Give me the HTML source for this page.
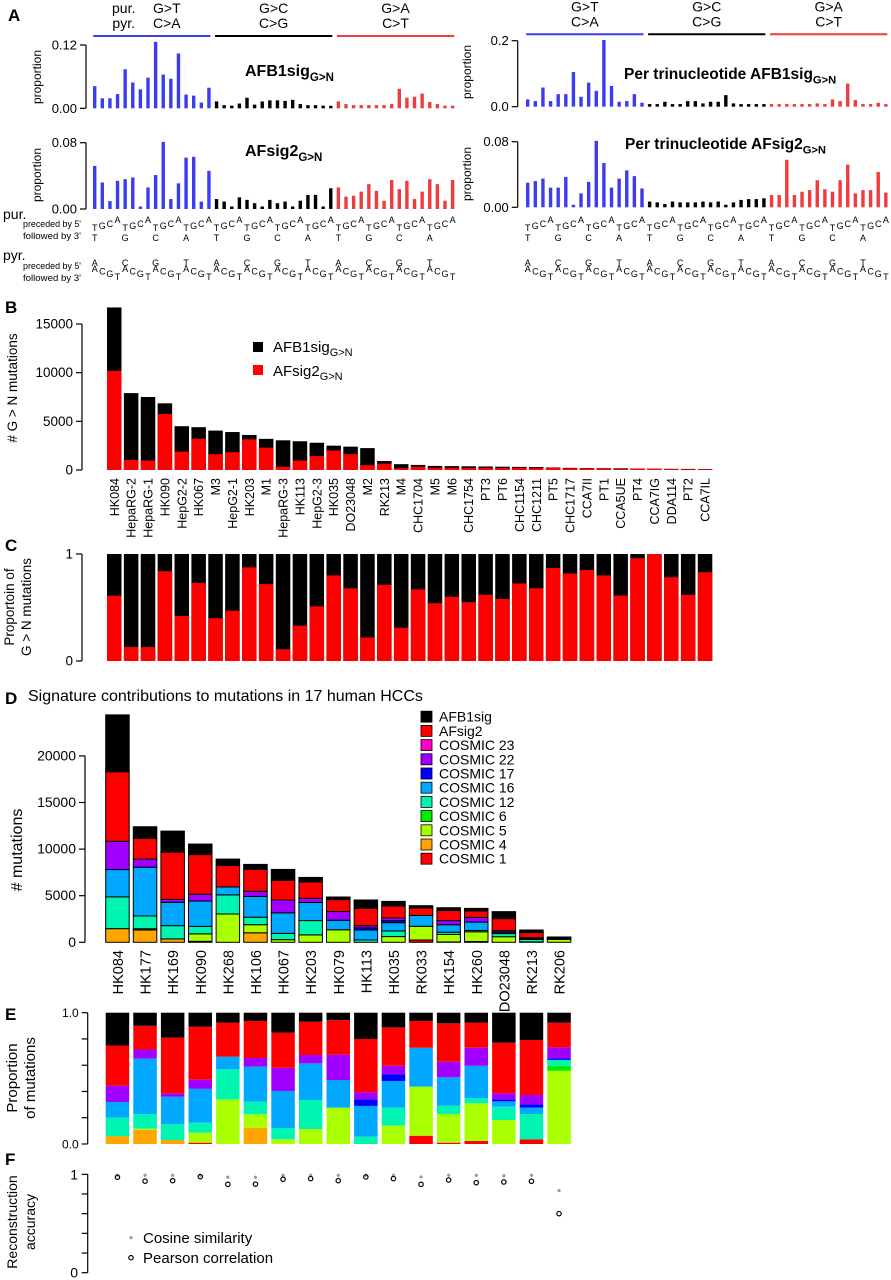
<!DOCTYPE html>
<html><head><meta charset="utf-8"><style>
html,body{margin:0;padding:0;background:#fff;}
svg{display:block;font-family:"Liberation Sans",Arial,sans-serif;}
</style></head><body>
<svg id="fig" width="891" height="1280" viewBox="0 0 891 1280" xmlns="http://www.w3.org/2000/svg"></svg>
<script>
// ---------- Panel A data ----------
const aAfb1 = [.042,.019,.019,.027,.074,.049,.036,.058,.126,.064,.056,.104,.026,.024,.011,.039,
 .013,.006,.005,.009,.02,.007,.013,.015,.015,.014,.016,.008,.006,.006,.005,.004,
 .013,.008,.006,.006,.006,.006,.006,.008,.037,.02,.022,.028,.012,.008,.005,.005];
const aAfsig2 = [.052,.032,.0096,.034,.036,.038,.002,.026,.041,.081,.012,.031,.062,.063,.009,.046,
 .012,.009,.003,.014,.011,.007,.003,.011,.007,.009,.003,.01,.017,.017,.003,.025,
 .026,.015,.016,.021,.03,.022,.01,.035,.024,.034,.012,.021,.036,.03,.01,.035];
const aTriAfb1 = [.022,.017,.058,.017,.038,.038,.105,.03,.073,.048,.202,.063,.015,.017,.038,.012,
 .008,.008,.015,.008,.008,.017,.017,.01,.015,.015,.035,.01,.008,.008,.008,.008,
 .008,.008,.008,.008,.008,.008,.01,.008,.022,.017,.07,.02,.008,.008,.012,.008];
const aTriAfsig2 = [.03,.032,.035,.024,.024,.037,.002,.017,.031,.081,.054,.024,.035,.045,.038,.023,
 .007,.006,.004,.007,.006,.006,.006,.007,.006,.007,.002,.006,.009,.010,.010,.011,
 .015,.015,.058,.015,.019,.021,.033,.022,.019,.033,.052,.017,.021,.021,.043,.018];
// ---------- Panel B/C data ----------
const bSamples = ["HK084","HepaRG-2","HepaRG-1","HK090","HepG2-2","HK067","M3","HepG2-1","HK203","M1","HepaRG-3","HK113","HepG2-3","HK035","DO23048","M2","RK213","M4","CHC1704","M5","M6","CHC1754","PT3","PT6","CHC1154","CHC1211","PT5","CHC1717","CCA7II","PT1","CCA5UE","PT4","CCA7IG","DDA114","PT2","CCA7IL"];
const bTotal = [16700,7900,7500,6850,4500,4400,4050,3900,3600,3200,3050,2950,2800,2500,2400,2250,920,600,520,420,400,380,360,340,320,300,260,220,200,190,170,150,130,120,110,100];
const bAfsig2 = [10190,1030,975,5750,1890,3210,1620,1830,3150,2300,335,975,1430,2000,1630,495,655,186,348,227,240,209,223,197,232,204,226,180,170,152,104,144,130,94,68,83];
const bTicks = [0,5000,10000,15000];
// ---------- Panel D/E/F data ----------
const dSamples = ["HK084","HK177","HK169","HK090","HK268","HK106","HK067","HK203","HK079","HK113","HK035","RK033","HK154","HK260","DO23048","RK213","RK206"];
const dTotal = [24400,12400,11930,10540,8930,8360,7820,6960,4860,4540,4390,3930,3710,3640,3290,1320,570];
const pCosmic1 = [0,0,0,.01,0,0,0,0,0,0,0,.063,.01,.023,0,.036,0];
const pCosmic4 = [.06,.107,.03,0,0,.122,0,0,0,0,0,0,0,0,0,0,0];
const pCosmic5 = [0,.01,0,.076,.34,.104,.036,.114,.277,0,.14,.374,.218,.287,.183,0,.558];
const pCosmic6 = [0,0,0,0,0,0,0,0,0,0,0,0,0,0,0,0,.038];
const pCosmic12 = [.14,.111,.12,.076,.23,.096,.086,.221,0,.056,.137,0,.064,.038,.101,.192,.044];
const pCosmic16 = [.12,.422,.21,.258,.095,.267,.282,.279,.21,.234,.203,.296,.216,.248,.041,.049,0];
const pCosmic17 = [0,0,0,0,0,0,0,0,0,.05,.05,0,0,0,.015,.025,.012];
const pCosmic22 = [.124,.07,.026,.07,0,.066,.176,.064,.193,.053,.066,0,.119,.137,.046,.071,.084];
const pCosmic23 = [0,0,0,0,0,0,0,0,0,0,0,0,0,0,0,0,0];
const pAfsig2 = [.306,.18,.424,.403,.259,.282,.268,.253,.264,.407,.292,.204,.292,.191,.386,.419,.188];
const pAfb1 = [.25,.1,.19,.107,.076,.063,.152,.069,.056,.2,.112,.063,.081,.076,.228,.208,.076];
const dTicks = [0,5000,10000,15000,20000];
const fCosine = [.99,.99,.99,.99,.97,.97,.99,.99,.99,.99,.99,.973,.99,.99,.985,.99,.834];
const fPearson = [.97,.93,.935,.976,.898,.9,.95,.956,.935,.973,.956,.898,.942,.915,.922,.929,.6];

const NS="http://www.w3.org/2000/svg";
const svg=document.getElementById('fig');
function mk(tag,attrs,txt){const e=document.createElementNS(NS,tag);for(const k in attrs)e.setAttribute(k,attrs[k]);if(txt!==undefined)e.textContent=txt;svg.appendChild(e);return e;}
function label(x,y,t,size,opts){const o=Object.assign({x:x,y:y,'font-size':size,fill:'#000'},opts||{});return mk('text',o,t);}
let e;

// ---------- panel letters ----------
[["A",8,21],["B",5,313],["C",5,551],["D",5,704],["E",5,1020],["F",5,1165]].forEach(p=>{
 e=label(p[1],p[2],p[0],17,{'font-weight':'bold'});
 
 
});

// ---------- Panel A ----------
const groupCol=["#3c3cf0","#000000","#f03c3c"];
function drawSpectrum(data,x0,pitch,y0,ymax,h,name){
 data.forEach((v,i)=>{
  const x=x0+i*pitch; const bh=Math.max(v/ymax*h,2.5);
  e=mk('rect',{x:x-1.7,y:y0-bh,width:3.4,height:bh,fill:groupCol[Math.floor(i/16)]});
  
  
 });
}
function yAxis(x,yTop,yBot,tickLabels,name,fs){
 e=mk('line',{x1:x,y1:yTop,x2:x,y2:yBot,stroke:'#000','stroke-width':1.2});
 
 
 tickLabels.forEach(t=>{
  e=mk('line',{x1:x-6,y1:t[0],x2:x,y2:t[0],stroke:'#000','stroke-width':1.2});
  
  
  e=label(x-9,t[0]+4.5,t[1],fs||13,{'text-anchor':'end'});
  
  
 });
}
function vText(x,y,t,size,name){
 e=label(x,y,t,size,{'text-anchor':'middle',transform:'rotate(-90 '+x+' '+y+')'});
 
 
 return e;
}
function titleSub(x,y,main,sub,size,name){
 e=mk('text',{x:x,y:y,'font-size':size,'font-weight':'bold',fill:'#000'});
 
 
 const t1=document.createElementNS(NS,'tspan');t1.textContent=main;e.appendChild(t1);
 const t2=document.createElementNS(NS,'tspan');t2.setAttribute('font-size',size*0.72);t2.setAttribute('dy',size*0.3);t2.textContent=sub;e.appendChild(t2);
}
function groupHeader(x0,pitch,yLine,withPur){
 const labs=[["G>T","C>A"],["G>C","C>G"],["G>A","C>T"]];
 for(let g=0;g<3;g++){
  const xs=x0+g*16*pitch-1.5, xe=x0+(g*16+15)*pitch+1.5;
  e=mk('line',{x1:xs,y1:yLine,x2:xe,y2:yLine,stroke:groupCol[g],'stroke-width':2});
  
  
  const cx=(xs+xe)/2+(g===0&&withPur?15:0);
  e=label(cx,yLine-23,labs[g][0],14,{'text-anchor':'middle'});
  
  
  e=label(cx,yLine-8,labs[g][1],14,{'text-anchor':'middle'});
  
  
 }
 if(withPur){
  e=label(x0+29,yLine-23,"pur.",14,{'text-anchor':'middle'});
  
  
  e=label(x0+29,yLine-8,"pyr.",14,{'text-anchor':'middle'});
  
  
 }
}
function contextLetters(x0,pitch){
 const purY={T:231,G:229,C:227,A:223}, pyrY={A:272,C:274.5,G:277,T:280};
 for(let i=0;i<48;i++){
  const x=x0+i*pitch; const l="TGCA"[i%4]; const l2="ACGT"[i%4];
  e=label(x,purY[l],l,9,{'text-anchor':'middle'});
  
  
  e=label(x,pyrY[l2],l2,9,{'text-anchor':'middle'});
  
  
  if(i%4===0){
   const g=Math.floor(i/4)%4;
   e=label(x,241,"TGCA"[g],9,{'text-anchor':'middle'});
   
   
   e=label(x,266,"ACGT"[g],9,{'text-anchor':'middle'});
   
   
  }
 }
}
// left
groupHeader(94.7,7.615,36,true);
yAxis(86,45,108.3,[[45,"0.12"],[108.3,"0.00"]],'a1-y');
drawSpectrum(aAfb1,94.7,7.615,108.3,0.12,63.3,'afb1sig');
vText(41,77,"proportion",12,'a1-y-title');
titleSub(245,76,"AFB1sig","G>N",16,'afb1sig-title');
yAxis(86,142.7,209,[[142.7,"0.08"],[209,"0.00"]],'a2-y');
drawSpectrum(aAfsig2,94.7,7.615,209,0.08,66.3,'afsig2');
vText(41,175,"proportion",12,'a2-y-title');
titleSub(245,156,"AFsig2","G>N",16,'afsig2-title');
contextLetters(94.7,7.615);
// right
groupHeader(527.7,7.62,34.3,false);
yAxis(517.7,40.7,106.7,[[40.7,"0.2"],[106.7,"0.0"]],'a3-y');
drawSpectrum(aTriAfb1,527.7,7.62,106.7,0.2,66,'tri-afb1sig');
vText(471,72,"proportion",12,'a3-y-title');
titleSub(624,79,"Per trinucleotide AFB1sig","G>N",15.5,'tri-afb1sig-title');
yAxis(517.7,141.7,207.3,[[141.7,"0.08"],[207.3,"0.00"]],'a4-y');
drawSpectrum(aTriAfsig2,527.7,7.62,207.3,0.08,65.6,'tri-afsig2');
vText(471,174,"proportion",12,'a4-y-title');
titleSub(625,149,"Per trinucleotide AFsig2","G>N",15.5,'tri-afsig2-title');
contextLetters(527.7,7.62);
// side labels
[["pur.",3,219,14],["pyr.",3,260,14]].forEach(p=>{e=label(p[1],p[2],p[0],p[3]);});
[["preceded by 5'",81,227],["followed by 3'",81,239],["preceded by 5'",81,269],["followed by 3'",81,281]].forEach(p=>{
 e=label(p[1],p[2],p[0],9,{'text-anchor':'end',textLength:58,lengthAdjust:'spacingAndGlyphs'});
 
 
});

// ---------- Panel B ----------
const bx0=107, bPitch=16.88, bW=14.5;
const byB=v=>470-v/15000*146;
yAxis(82,324,470,bTicks.map(t=>[byB(t),String(t)]),'b-y',13.5);
vText(17,388,"# G > N mutations",13.5,'b-y-title');
bTotal.forEach((t,i)=>{
 const x=bx0+i*bPitch;
 e=mk('rect',{x:x,y:byB(t),width:bW,height:470-byB(t),fill:'#000'});
 
 
 e=mk('rect',{x:x,y:byB(bAfsig2[i]),width:bW,height:470-byB(bAfsig2[i]),fill:'#ff0000'});
 
 
 e=label(x+bW/2+4.5,478,bSamples[i],12.5,{'text-anchor':'end',transform:'rotate(-90 '+(x+bW/2+4.5)+' 478)'});
 
 
});
e=mk('rect',{x:253,y:342,width:10,height:10,fill:'#000'});

e=mk('rect',{x:253,y:365,width:10,height:10,fill:'#ff0000'});

[["AFB1sig",352],["AFsig2",376]].forEach(p=>{
 e=mk('text',{x:273,y:p[1],'font-size':15,fill:'#000'});
 
 const a=document.createElementNS(NS,'tspan');a.textContent=p[0];e.appendChild(a);
 const b=document.createElementNS(NS,'tspan');b.setAttribute('font-size',11);b.setAttribute('dy',4);b.textContent="G>N";e.appendChild(b);
});

// ---------- Panel C ----------
const cTop=554, cBot=661;
yAxis(82,cTop,cBot,[[cTop,"1"],[cBot,"0"]],'c-y',13.5);
vText(14,607,"Proportoin of",13.5,'c-y-title');
vText(31,607,"G > N mutations",13.5,'c-y-title-2');
bTotal.forEach((t,i)=>{
 const x=bx0+i*bPitch; const p=bAfsig2[i]/t;
 e=mk('rect',{x:x,y:cTop,width:bW,height:cBot-cTop,fill:'#000'});
 
 e=mk('rect',{x:x,y:cBot-p*(cBot-cTop),width:bW,height:p*(cBot-cTop),fill:'#ff0000'});
 
});

// ---------- Panel D ----------
const sigOrder=[pCosmic1,pCosmic4,pCosmic5,pCosmic6,pCosmic12,pCosmic16,pCosmic17,pCosmic22,pCosmic23,pAfsig2,pAfb1];
const sigNames=["COSMIC 1","COSMIC 4","COSMIC 5","COSMIC 6","COSMIC 12","COSMIC 16","COSMIC 17","COSMIC 22","COSMIC 23","AFsig2","AFB1sig"];
const sigCols=["#ff0000","#ffa500","#aaff00","#00ee00","#00f5b0","#00a8ff","#0000ff","#a000ff","#ff00c8","#ff0000","#000000"];
const dx0=105.7, dPitch=27.6, dW=23.5;
const dyB=v=>942.3-v/5000*46.6;
e=label(28,701,"Signature contributions to mutations in 17 human HCCs",16);

yAxis(85,dyB(20000),942.3,dTicks.map(t=>[dyB(t),String(t)]),'d-y',14);
vText(22,850,"# mutations",16,'d-y-title');
dTotal.forEach((t,i)=>{
 const x=dx0+i*dPitch; let cum=0;
 const sum=sigOrder.reduce((s,a)=>s+a[i],0);
 sigOrder.forEach((arr,k)=>{
  const v=arr[i]/sum*t; if(v<=0) return;
  e=mk('rect',{x:x,y:dyB(cum+v),width:dW,height:dyB(cum)-dyB(cum+v),fill:sigCols[k],stroke:'#000','stroke-width':1});
  
  
  cum+=v;
 });
 const lx=x+dW/2+5.5;
 e=label(lx,950,dSamples[i],14.5,{'text-anchor':'end',transform:'rotate(-90 '+lx+' 950)'});
 
});
for(let k=10;k>=0;k--){
 const row=10-k; const cy=716.7+row*14.2;
 e=mk('rect',{x:421,y:cy-5.5,width:11,height:11,fill:sigCols[k],stroke:'#000','stroke-width':0.8});
 
 e=label(439,cy+5,sigNames[k],14);
 
}

// ---------- Panel E ----------
const eTop=1012.7, eBot=1144;
yAxis(87.7,eTop,eBot,[[eTop,"1.0"],[eBot,"0.0"]],'e-y',12);
[0.2,0.4,0.6,0.8].forEach(v=>{
 e=mk('line',{x1:81.7,y1:eBot-v*(eBot-eTop),x2:87.7,y2:eBot-v*(eBot-eTop),stroke:'#000','stroke-width':1.2});
 
});
vText(17,1078,"Proportion",15,'e-y-title');
vText(35,1078,"of mutations",15,'e-y-title-2');
dTotal.forEach((t,i)=>{
 const x=dx0+i*dPitch; let cum=0;
 const sum=sigOrder.reduce((s,a)=>s+a[i],0);
 sigOrder.forEach((arr,k)=>{
  const v=arr[i]/sum; if(v<=0) return;
  e=mk('rect',{x:x,y:eBot-(cum+v)*(eBot-eTop),width:dW,height:v*(eBot-eTop),fill:sigCols[k]});
  
  
  cum+=v;
 });
});

// ---------- Panel F ----------
const fTop=1174.3, fBot=1272.7;
const fy=v=>fBot-v*(fBot-fTop);
e=mk('line',{x1:87.7,y1:fTop,x2:87.7,y2:fBot,stroke:'#000','stroke-width':1.2});

[0,0.2,0.4,0.6,0.8,1].forEach(v=>{
 e=mk('line',{x1:81.7,y1:fy(v),x2:87.7,y2:fy(v),stroke:'#000','stroke-width':1.2});
 
});
[[1,"1"],[0,"0"]].forEach(t=>{
 e=label(78,fy(t[0])+5,t[1],14,{'text-anchor':'end'});
 
});
vText(17,1222,"Reconstruction",14,'f-y-title');
vText(35,1222,"accuracy",14,'f-y-title-2');
dSamples.forEach((s,i)=>{
 const cx=dx0+i*dPitch+dW/2;
 e=mk('circle',{cx:cx,cy:fy(fCosine[i]),r:1.6,fill:'#999'});
 
 e=mk('circle',{cx:cx,cy:fy(fPearson[i]),r:2.2,fill:'none',stroke:'#000','stroke-width':1.2});
 
});
e=mk('circle',{cx:131,cy:1237.7,r:1.6,fill:'#999'});

e=label(143,1243,"Cosine similarity",15);

e=mk('circle',{cx:131,cy:1257.7,r:2.2,fill:'none',stroke:'#000','stroke-width':1.2});

e=label(143,1263,"Pearson correlation",15);

</script>
</body></html>
